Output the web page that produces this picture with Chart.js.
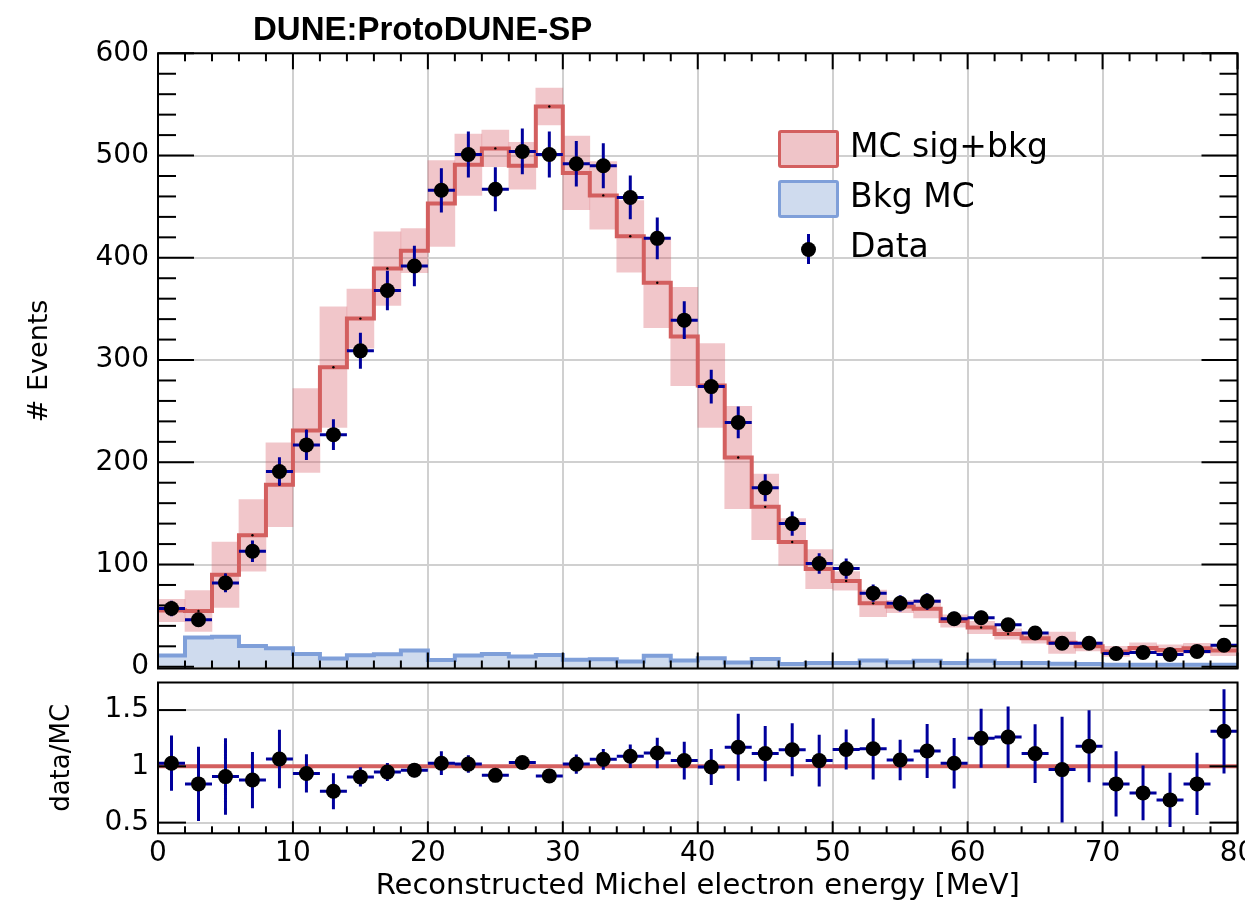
<!DOCTYPE html>
<html lang="en">
<head>
<meta charset="utf-8">
<title>Reconstructed Michel electron energy</title>
<script src="https://cdn.jsdelivr.net/npm/chart.js@4.4.1/dist/chart.umd.min.js"></script>
<style>
  html, body { margin: 0; padding: 0; background: #fff; }
  #figure { position: relative; width: 1245px; height: 908px; overflow: hidden; background: #fff; }
  #main-chart { position: absolute; left: 0; top: 0; }
  #ratio-chart { position: absolute; left: 0; top: 675px; }
  .plot-title { position: absolute; left: 253px; top: 12px; font: bold 33px/33px 'Liberation Sans', Arial, sans-serif; white-space: nowrap; }
  .swatch { position: absolute; left: 778px; width: 55px; height: 32px; border: 3px solid; border-radius: 3px; }
  .swatch.mc { top: 130px; border-color: #d35f5f; background: #efc4c8; }
  .swatch.bkg { top: 180px; border-color: #7f9fd9; background: #cfdbee; }
  .marker-bar { position: absolute; left: 806.8px; top: 234px; width: 3px; height: 30px; background: #00009c; }
  .marker-dot { position: absolute; left: 800.8px; top: 241.5px; width: 15px; height: 15px; border-radius: 50%; background: #000; }
  .entry { position: absolute; left: 850px; font: 33px/33px 'DejaVu Sans', sans-serif; white-space: nowrap; }
</style>
</head>
<body>
<div id="figure">
  <canvas id="main-chart" width="1245" height="676"></canvas>
  <canvas id="ratio-chart" width="1245" height="233"></canvas>
  <div class="plot-title">DUNE:ProtoDUNE-SP</div>
  <div class="swatch mc"></div>
  <div class="entry" style="top:129px">MC sig+bkg</div>
  <div class="swatch bkg"></div>
  <div class="entry" style="top:179px">Bkg MC</div>
  <div class="marker-bar"></div>
  <div class="marker-dot"></div>
  <div class="entry" style="top:229px">Data</div>
</div>
<script>
// 2 MeV bins, 0-80 MeV
const binEdges = [0, 2, 4, 6, 8, 10, 12, 14, 16, 18, 20, 22, 24, 26, 28, 30, 32, 34, 36, 38, 40,
  42, 44, 46, 48, 50, 52, 54, 56, 58, 60, 62, 64, 66, 68, 70, 72, 74, 76, 78, 80];
const binCenters = [1, 3, 5, 7, 9, 11, 13, 15, 17, 19, 21, 23, 25, 27, 29, 31, 33, 35, 37, 39,
  41, 43, 45, 47, 49, 51, 53, 55, 57, 59, 61, 63, 65, 67, 69, 71, 73, 75, 77, 79];

const dataCounts = [57, 46, 82, 113, 191, 217, 227, 309, 368, 392,
  466, 501, 467, 504, 501, 492, 490, 459, 419, 339,
  274, 239, 175, 140, 101, 96, 72, 62, 64, 47,
  48, 41, 33, 23, 23, 13, 14, 12, 15, 21];
const dataErr = [7.5, 6.8, 9.1, 10.6, 13.8, 14.7, 15.1, 17.6, 19.2, 19.8,
  21.6, 22.4, 21.6, 22.4, 22.4, 22.2, 22.1, 21.4, 20.5, 18.4,
  16.6, 15.5, 13.2, 11.8, 10.0, 9.8, 8.5, 7.9, 8.0, 6.9,
  6.9, 6.4, 5.7, 4.8, 4.8, 3.6, 3.7, 3.5, 3.9, 4.6];

const mcTotal = [55, 54.5, 90, 128.6, 178, 231, 293, 340.5, 389.5, 407,
  453, 491, 507, 490, 548, 483, 461, 421, 375.6, 323,
  275, 204.7, 156.4, 122, 95.5, 84, 62, 59, 56.8, 44.8,
  38.4, 32, 28, 23.5, 20, 15, 18.4, 16.5, 18, 15.8];
const mcErr = [11, 20, 32, 35, 41, 41, 59, 29, 36, 21.5,
  42, 30, 18, 23, 18, 36, 33, 35, 44, 48,
  41, 50, 32, 23, 19, 9, 13, 6, 9, 6,
  6, 5, 5, 10.5, 4.5, 5, 5, 5, 5, 5];
const bkgMC = [11, 28.7, 29.4, 20.3, 18, 12.6, 8, 11.3, 12.3, 15.8,
  6.5, 11, 12.6, 10, 11.6, 6.8, 7.4, 5.2, 10.7, 6.2,
  8.4, 4.2, 7.7, 2.6, 3.6, 3.6, 6.2, 4.5, 6, 3.6,
  6, 3.6, 3.6, 3, 2.6, 2, 2, 2, 2, 2];

const ratio = [1.028, 0.844, 0.909, 0.878, 1.065, 0.937, 0.779, 0.906, 0.949, 0.966,
  1.028, 1.02, 0.92, 1.034, 0.915, 1.02, 1.062, 1.09, 1.119, 1.051,
  0.994, 1.17, 1.113, 1.147, 1.051, 1.15, 1.156, 1.056, 1.136, 1.028,
  1.249, 1.26, 1.113, 0.971, 1.179, 0.844, 0.764, 0.702, 0.844, 1.311];
const ratioErr = [0.245, 0.33, 0.34, 0.25, 0.26, 0.17, 0.16, 0.085, 0.08, 0.064,
  0.105, 0.078, 0.045, 0.045, 0.045, 0.085, 0.092, 0.105, 0.135, 0.167,
  0.16, 0.297, 0.245, 0.235, 0.23, 0.177, 0.272, 0.18, 0.24, 0.224,
  0.262, 0.272, 0.26, 0.47, 0.32, 0.29, 0.244, 0.241, 0.277, 0.375];

const xTicks = [0, 10, 20, 30, 40, 50, 60, 70, 80];
const yTicksMain = [0, 100, 200, 300, 400, 500, 600];
const yTicksRatio = [0.5, 1, 1.5];

const RED = '#d35f5f';
const BAND = 'rgba(214, 92, 104, 0.35)';
const BLUE = '#7f9fd9';
const BLUE_FILL = '#cfdbee';
const ERR_BLUE = '#00009c';
const GRID = '#d0d0d0';

Chart.defaults.font.family = "'DejaVu Sans', sans-serif";
Chart.defaults.color = '#000';

// ROOT style frame with inward ticks on every side
const rootFrame = {
  id: 'rootFrame',
  afterDatasetsDraw(chart, args, opts) {
    const { ctx, chartArea: area } = chart;
    const { x, y } = chart.scales;
    const line = (x1, y1, x2, y2) => {
      ctx.beginPath();
      ctx.moveTo(x1, y1);
      ctx.lineTo(x2, y2);
      ctx.stroke();
    };
    const steps = (scale, step) => {
      const out = [];
      for (let v = Math.ceil(scale.min / step - 1e-9) * step; v <= scale.max + 1e-9; v += step) {
        out.push(+v.toFixed(6));
      }
      return out;
    };
    const isMajor = (v, major) => Math.abs(v / major - Math.round(v / major)) < 1e-6;

    ctx.save();
    ctx.strokeStyle = '#000';
    ctx.lineWidth = 2;
    steps(x, opts.xMinor).forEach((v) => {
      const px = x.getPixelForValue(v);
      const len = isMajor(v, opts.xMajor) ? opts.xMajorLen : opts.xMinorLen;
      if (opts.tickBottom) line(px, area.bottom, px, area.bottom - len);
      if (opts.tickTop) line(px, area.top, px, area.top + len);
    });
    steps(y, opts.yMinor).forEach((v) => {
      const py = y.getPixelForValue(v);
      const len = isMajor(v, opts.yMajor) ? opts.yMajorLen : opts.yMinorLen;
      line(area.left, py, area.left + len, py);
      line(area.right, py, area.right - len, py);
    });
    ctx.strokeRect(area.left, area.top, area.right - area.left, area.bottom - area.top);
    ctx.restore();
  },
};

function fixSize(key, size) {
  return (scale) => {
    scale[key] = size;
    scale.paddingLeft = 0;
    scale.paddingRight = 0;
    scale.paddingTop = 0;
    scale.paddingBottom = 0;
  };
}

function useTicks(values) {
  return (scale) => {
    scale.ticks = values.map((value) => ({ value }));
  };
}

function stepPoints(values) {
  return binEdges.map((edge, i) => ({ x: edge, y: values[Math.min(i, values.length - 1)] }));
}

function errorSegments(values, errors) {
  return binCenters.flatMap((c, i) => [
    { x: binEdges[i], y: values[i] },
    { x: binEdges[i + 1], y: values[i] },
    { x: c, y: null },
    { x: c, y: values[i] - errors[i] },
    { x: c, y: values[i] + errors[i] },
    { x: c, y: null },
  ]);
}

const commonOptions = {
  responsive: false,
  animation: false,
  events: [],
  plugins: { legend: { display: false }, tooltip: { enabled: false } },
};

const mainChart = new Chart(document.getElementById('main-chart'), {
  type: 'scatter',
  data: {
    datasets: [
      {
        label: 'Data',
        data: binCenters.map((c, i) => ({ x: c, y: dataCounts[i] })),
        pointRadius: 7.5,
        pointBackgroundColor: '#000',
        pointBorderWidth: 0,
      },
      {
        type: 'line',
        label: 'Data error',
        data: errorSegments(dataCounts, dataErr),
        borderColor: ERR_BLUE,
        borderWidth: 3,
        pointRadius: 0,
        spanGaps: false,
        fill: false,
      },
      {
        label: 'MC markers',
        data: binCenters.map((c, i) => ({ x: c, y: mcTotal[i] })),
        pointRadius: 1.2,
        pointBackgroundColor: '#000',
        pointBorderWidth: 0,
      },
      {
        type: 'line',
        label: 'MC sig+bkg',
        data: stepPoints(mcTotal),
        stepped: 'before',
        borderColor: RED,
        borderWidth: 4,
        pointRadius: 0,
        fill: false,
      },
      {
        type: 'bar',
        label: 'MC uncertainty',
        data: binCenters.map((c, i) => ({ x: c, y: [mcTotal[i] - mcErr[i], mcTotal[i] + mcErr[i]] })),
        backgroundColor: BAND,
        borderWidth: 0,
        barPercentage: 1,
        categoryPercentage: 1,
      },
      {
        type: 'line',
        label: 'Bkg MC',
        data: stepPoints(bkgMC),
        stepped: 'before',
        borderColor: BLUE,
        backgroundColor: BLUE_FILL,
        borderWidth: 4,
        pointRadius: 0,
        fill: 'origin',
      },
    ],
  },
  options: {
    ...commonOptions,
    layout: { padding: { top: 53.3, right: 7, bottom: 0.5, left: 0 } },
    plugins: {
      ...commonOptions.plugins,
      rootFrame: {
        xMinor: 2, xMajor: 10, xMajorLen: 16, xMinorLen: 8, tickTop: true, tickBottom: true,
        yMinor: 20, yMajor: 100, yMajorLen: 36, yMinorLen: 18,
      },
    },
    scales: {
      x: {
        type: 'linear',
        min: 0,
        max: 80,
        offset: false,
        afterBuildTicks: useTicks(xTicks),
        afterFit: fixSize('height', 0),
        ticks: { display: false },
        grid: { color: GRID, lineWidth: 2, drawTicks: false, offset: false },
        border: { display: false },
      },
      y: {
        type: 'linear',
        min: -1.7,
        max: 600,
        afterBuildTicks: useTicks(yTicksMain),
        afterFit: fixSize('width', 158),
        ticks: { font: { size: 28 }, padding: 9, callback: (v) => String(v) },
        grid: { color: GRID, lineWidth: 2, drawTicks: false },
        border: { display: false },
        title: { display: true, text: '# Events', font: { size: 27 }, padding: { top: 23.8, bottom: 0 } },
      },
    },
  },
  plugins: [rootFrame],
});

const ratioChart = new Chart(document.getElementById('ratio-chart'), {
  type: 'scatter',
  data: {
    datasets: [
      {
        label: 'data/MC',
        data: binCenters.map((c, i) => ({ x: c, y: ratio[i] })),
        pointRadius: 7.5,
        pointBackgroundColor: '#000',
        pointBorderWidth: 0,
      },
      {
        type: 'line',
        label: 'data/MC error',
        data: errorSegments(ratio, ratioErr),
        borderColor: ERR_BLUE,
        borderWidth: 3,
        pointRadius: 0,
        spanGaps: false,
        fill: false,
      },
      {
        type: 'line',
        label: 'unity',
        data: [{ x: binEdges[0], y: 1 }, { x: binEdges[binEdges.length - 1], y: 1 }],
        borderColor: RED,
        borderWidth: 4,
        pointRadius: 0,
        fill: false,
      },
    ],
  },
  options: {
    ...commonOptions,
    layout: { padding: { top: 0.7, right: 7, bottom: 0, left: 0 } },
    plugins: {
      ...commonOptions.plugins,
      rootFrame: {
        xMinor: 2, xMajor: 10, xMajorLen: 12, xMinorLen: 7, tickTop: false, tickBottom: true,
        yMinor: 0.5, yMajor: 0.5, yMajorLen: 28, yMinorLen: 28,
      },
    },
    scales: {
      x: {
        type: 'linear',
        min: 0,
        max: 80,
        offset: false,
        afterBuildTicks: useTicks(xTicks),
        afterFit: fixSize('height', 74.7),
        ticks: { font: { size: 28 }, padding: 4, maxRotation: 0, callback: (v) => String(v) },
        grid: { color: GRID, lineWidth: 2, drawTicks: false, offset: false },
        border: { display: false },
        title: {
          display: true,
          text: 'Reconstructed Michel electron energy [MeV]',
          font: { size: 29 },
          padding: { top: 0, bottom: 4.6 },
        },
      },
      y: {
        type: 'linear',
        min: 0.405,
        max: 1.745,
        afterBuildTicks: useTicks(yTicksRatio),
        afterFit: fixSize('width', 158),
        ticks: { font: { size: 28 }, padding: 9, callback: (v) => String(v) },
        grid: { color: GRID, lineWidth: 2, drawTicks: false },
        border: { display: false },
        title: { display: true, text: 'data/MC', font: { size: 26 }, padding: { top: 46.4, bottom: 0 } },
      },
    },
  },
  plugins: [rootFrame],
});
</script>
</body>
</html>
